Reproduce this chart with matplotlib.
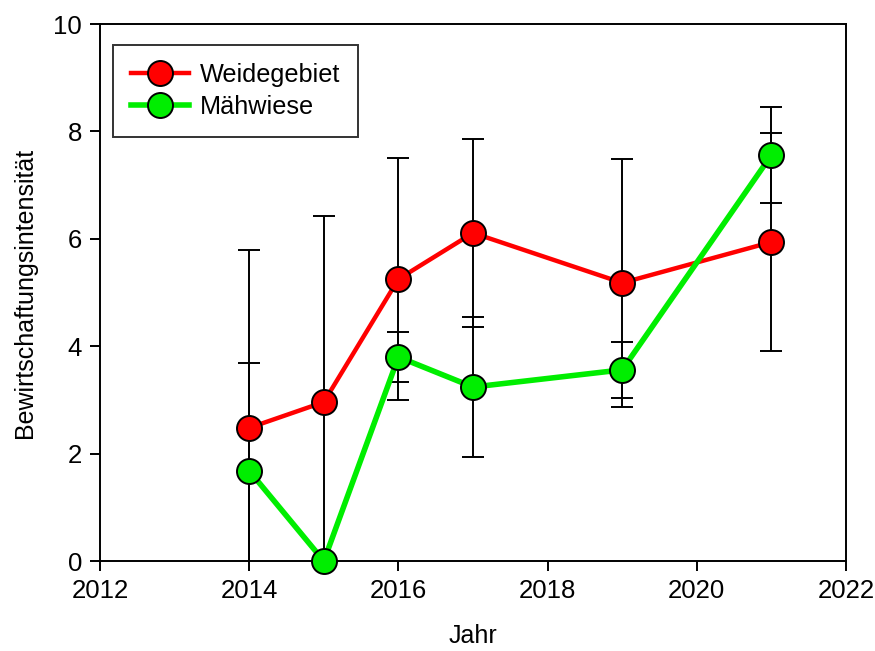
import matplotlib.pyplot as plt

plt.rcParams['font.family'] = ['Liberation Sans', 'DejaVu Sans']

# Mittelwerte und Fehler je Jahr
jahre_weide = [2014, 2015, 2016, 2017, 2019, 2021]
weide = [2.48, 2.96, 5.25, 6.11, 5.18, 5.94]
weide_err = [3.31, 3.46, 2.25, 1.75, 2.31, 2.03]

jahre_maeh = [2014, 2015, 2016, 2017, 2019, 2021]
maeh = [1.68, 0.0, 3.80, 3.24, 3.56, 7.56]
maeh_err = [2.00, 0.0, 0.47, 1.30, 0.52, 0.90]

fig = plt.figure(figsize=(8.75, 6.51), dpi=100)
ax = fig.add_axes([0.1143, 0.1382, 0.8526, 0.8249])

ax.errorbar(jahre_weide, weide, yerr=weide_err, fmt='none', ecolor='black',
            elinewidth=1.4, capsize=8, capthick=1.4, zorder=2)
ax.errorbar(jahre_maeh, maeh, yerr=maeh_err, fmt='none', ecolor='black',
            elinewidth=1.4, capsize=8, capthick=1.4, zorder=2)

ax.plot(jahre_weide, weide, color='#ff0000', linewidth=3.2, marker='o',
        markersize=18, markerfacecolor='#ff0000', markeredgecolor='black',
        markeredgewidth=1.4, label='Weidegebiet', zorder=3, clip_on=False)
ax.plot(jahre_maeh, maeh, color='#00ee00', linewidth=4, marker='o',
        markersize=18, markerfacecolor='#00ee00', markeredgecolor='black',
        markeredgewidth=1.4, label='Mähwiese', zorder=4, clip_on=False)

ax.set_xlim(2012, 2022)
ax.set_ylim(0, 10)
ax.set_xticks([2012, 2014, 2016, 2018, 2020, 2022])
ax.set_yticks([0, 2, 4, 6, 8, 10])
ax.tick_params(direction='out', length=7, width=1.4, labelsize=18.5, pad=6)
for s in ax.spines.values():
    s.set_linewidth(1.4)

ax.set_xlabel('Jahr', fontsize=18, labelpad=15)
ax.set_ylabel('Bewirtschaftungsintensität', fontsize=18, labelpad=12)

leg = ax.legend(loc='upper left', bbox_to_anchor=(0.0174, 0.961), fontsize=18.2,
                frameon=True, fancybox=False, edgecolor='black',
                handlelength=2.3, handletextpad=0.45, borderpad=0.7,
                labelspacing=0.33, borderaxespad=0)
leg.get_frame().set_linewidth(1.4)

plt.savefig('out.png', dpi=100)
